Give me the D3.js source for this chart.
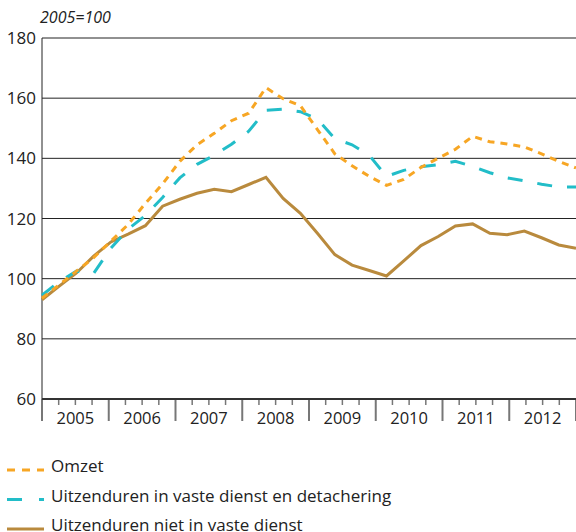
<!DOCTYPE html>
<html>
<head>
<meta charset="utf-8">
<script src="https://cdn.jsdelivr.net/npm/d3@7"></script>
<style>
  body { margin: 0; background: #fff; }
  svg { display: block; }
</style>
</head>
<body>
<div id="chart"></div>
<script>
var quarters = [
  "2005 I","2005 II","2005 III","2005 IV","2006 I","2006 II","2006 III","2006 IV",
  "2007 I","2007 II","2007 III","2007 IV","2008 I","2008 II","2008 III","2008 IV",
  "2009 I","2009 II","2009 III","2009 IV","2010 I","2010 II","2010 III","2010 IV",
  "2011 I","2011 II","2011 III","2011 IV","2012 I","2012 II","2012 III","2012 IV"];
var years = [2005, 2006, 2007, 2008, 2009, 2010, 2011, 2012];
var yTicks = [60, 80, 100, 120, 140, 160, 180];

var omzet = [93.5, 98, 102.5, 107, 112.5, 118, 125, 131.5, 139, 144.5, 148.3, 152.5, 155, 163.5, 159.8, 157.5,
  149.5, 141.5, 137.5, 134, 131, 133, 137, 140, 143, 147.3, 145.5, 144.8, 143.8, 141.5, 139, 136.8];
var vast = [94.5, 99, 102.5, 101.8, 110.1, 116.5, 121, 127, 133.5, 138, 141, 144.7, 149, 156, 156.3, 155.5,
  153, 146.5, 144.5, 141, 134, 136, 137.2, 137.9, 139, 137.3, 135.2, 133.5, 132.5, 131.4, 130.5, 130.5];
var nietVast = [93, 97.5, 101.9, 107.5, 112.2, 114.8, 117.6, 124.1, 126.4, 128.4, 129.7, 128.9, 131.3, 133.7, 126.7, 121.7,
  115, 108, 104.5, 102.7, 100.9, 105.9, 111, 114, 117.5, 118.2, 115.1, 114.6, 115.8, 113.6, 111.2, 110.1];

var series = [
  {name: "Omzet", values: omzet, color: "#f7a624", dash: "7,6", legendDash: "8,7"},
  {name: "Uitzenduren in vaste dienst en detachering", values: vast, color: "#22bdc8", dash: "15,15", legendDash: "15,17"},
  {name: "Uitzenduren niet in vaste dienst", values: nietVast, color: "#b98a3d", dash: null, legendDash: null}
];

var width = 576, height = 532;
var plotLeft = 42, plotRight = 576, plotTop = 38, plotBottom = 399;
var font = "'Open Sans', sans-serif";

var svg = d3.select("#chart").append("svg")
    .attr("width", width)
    .attr("height", height);

var y = d3.scaleLinear().domain([60, 180]).range([plotBottom, plotTop]);
var xq = d3.scalePoint().domain(quarters).range([plotLeft, plotRight]);
var xt = d3.scaleLinear().domain([2005, 2013]).range([plotLeft, plotRight]);

// gridlines
svg.append("g").selectAll("line")
    .data(yTicks.filter(function(d) { return d > 60; }))
    .enter().append("line")
    .attr("x1", plotLeft).attr("x2", plotRight)
    .attr("y1", function(d) { return y(d); })
    .attr("y2", function(d) { return y(d); })
    .style("stroke", "#222")
    .style("stroke-width", 1);

// y labels
svg.append("g").selectAll("text")
    .data(yTicks)
    .enter().append("text")
    .attr("x", 36)
    .attr("y", function(d) { return y(d) + 6; })
    .attr("text-anchor", "end")
    .style("font-family", font)
    .style("font-size", "17px")
    .style("fill", "#222")
    .text(function(d) { return d; });

svg.append("text")
    .attr("x", 40).attr("y", 23)
    .style("font-family", font)
    .style("font-size", "16px")
    .style("font-style", "italic")
    .style("fill", "#222")
    .text("2005=100");

// left axis line
svg.append("line")
    .attr("x1", plotLeft).attr("x2", plotLeft)
    .attr("y1", plotTop).attr("y2", plotBottom)
    .style("stroke", "#222").style("stroke-width", 1);

// x axis: quarter ticks and year ticks
var quarterTicks = d3.range(2005, 2013, 0.25).filter(function(d) { return d % 1 !== 0; });
svg.append("g").selectAll("line")
    .data(quarterTicks)
    .enter().append("line")
    .attr("x1", function(d) { return xt(d); })
    .attr("x2", function(d) { return xt(d); })
    .attr("y1", plotBottom).attr("y2", plotBottom + 6)
    .style("stroke", "#777").style("stroke-width", 1.5);

svg.append("g").selectAll("line")
    .data(years.concat([2013]))
    .enter().append("line")
    .attr("x1", function(d) { return xt(d); })
    .attr("x2", function(d) { return xt(d); })
    .attr("y1", plotBottom).attr("y2", plotBottom + 22)
    .style("stroke", "#777").style("stroke-width", 2);

svg.append("line")
    .attr("x1", plotLeft).attr("x2", plotRight)
    .attr("y1", plotBottom).attr("y2", plotBottom)
    .style("stroke", "#333").style("stroke-width", 2);

svg.append("g").selectAll("text")
    .data(years)
    .enter().append("text")
    .attr("x", function(d) { return xt(d + 0.5); })
    .attr("y", 424)
    .attr("text-anchor", "middle")
    .style("font-family", font)
    .style("font-size", "16.5px")
    .style("fill", "#222")
    .text(function(d) { return d; });

// lines
var line = d3.line()
    .x(function(d, i) { return xq(quarters[i]); })
    .y(function(d) { return y(d); });

svg.append("g").selectAll("path")
    .data(series.slice().reverse())
    .enter().append("path")
    .attr("d", function(s) { return line(s.values); })
    .style("fill", "none")
    .style("stroke", function(s) { return s.color; })
    .style("stroke-width", 3)
    .style("stroke-dasharray", function(s) { return s.dash; });

// legend
var legend = svg.append("g").selectAll("g")
    .data(series)
    .enter().append("g")
    .attr("transform", function(d, i) { return "translate(0," + (470 + i * 29.5) + ")"; });

legend.append("line")
    .attr("x1", 7).attr("x2", 44)
    .attr("y1", 0).attr("y2", 0)
    .style("stroke", function(s) { return s.color; })
    .style("stroke-width", 3)
    .style("stroke-dasharray", function(s) { return s.legendDash; });

legend.append("text")
    .attr("x", 51).attr("y", 2)
    .style("font-family", font)
    .style("font-size", "17px")
    .style("fill", "#222")
    .text(function(s) { return s.name; });
</script>
</body>
</html>
